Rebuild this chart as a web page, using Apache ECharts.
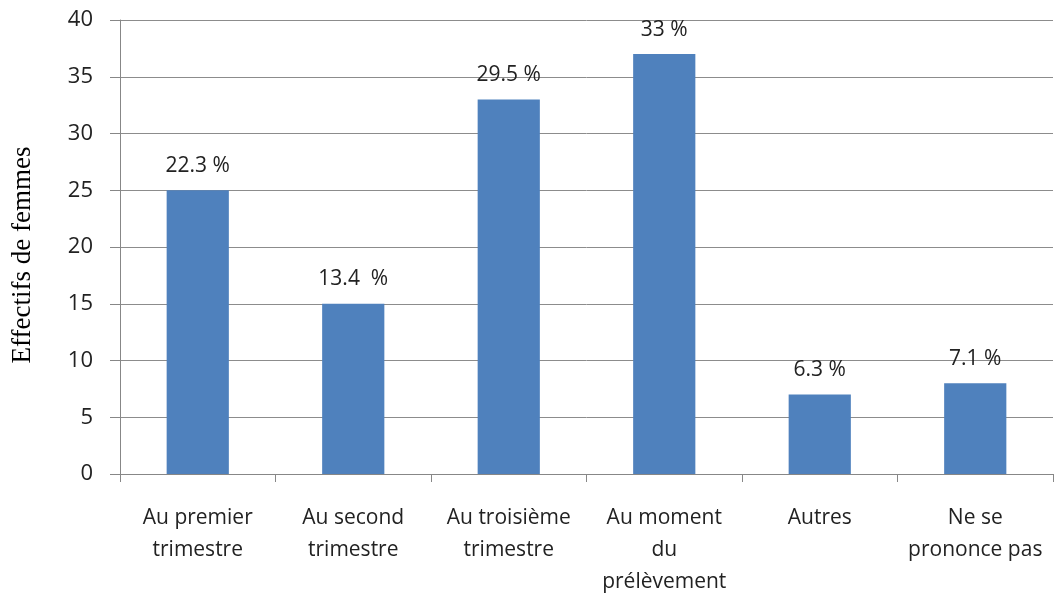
<!DOCTYPE html>
<html><head><meta charset="utf-8">
<script src="https://cdn.jsdelivr.net/npm/echarts@6/dist/echarts.min.js"></script>
<style>html,body{margin:0;padding:0;background:#fff}#c{width:1063px;height:599px}</style>
</head><body><div id="c"></div>
<script>
var categories = ["Au premier\ntrimestre", "Au second\ntrimestre", "Au troisième\ntrimestre", "Au moment\ndu\nprélèvement", "Autres", "Ne se\nprononce pas"];
var values = [25, 15, 33, 37, 7, 8];
var pctLabels = ["22.3 %", "13.4  %", "29.5 %", "33 %", "6.3 %", "7.1 %"];
var yTicks = [0, 5, 10, 15, 20, 25, 30, 35, 40];

var chart = echarts.init(document.getElementById('c'));
chart.setOption({
  animation: false,
  grid: {left: 120, right: 10, top: 20, bottom: 125},
  xAxis: {
    type: 'category', data: categories,
    axisLine: {lineStyle: {color: '#878787', width: 1}},
    axisTick: {show: true, length: 8, lineStyle: {color: '#878787'}},
    axisLabel: {color: '#222', fontFamily: 'Open Sans, Noto Sans, sans-serif', fontSize: 21, lineHeight: 32, margin: 28, interval: 0}
  },
  yAxis: {
    type: 'value', min: 0, max: 40, interval: 5,
    name: 'Effectifs de femmes', nameLocation: 'middle', nameGap: 84,
    nameTextStyle: {fontFamily: 'Liberation Serif, DejaVu Serif, serif', fontSize: 27, color: '#000', padding: [0, 16, 0, 0]},
    axisLine: {show: true, lineStyle: {color: '#878787'}},
    axisTick: {show: true, length: 10, lineStyle: {color: '#878787'}},
    splitLine: {lineStyle: {color: '#8c8c8c', width: 1}},
    axisLabel: {color: '#222', fontFamily: 'Open Sans, Noto Sans, sans-serif', fontSize: 22, margin: 27}
  },
  series: [{
    type: 'bar', data: values, barWidth: '40%',
    itemStyle: {color: '#4F81BD'},
    label: {show: true, position: 'top', distance: 14, color: '#222',
      fontFamily: 'Open Sans, Noto Sans, sans-serif', fontSize: 21,
      formatter: function (p) { return pctLabels[p.dataIndex]; }}
  }]
});
</script></body></html>
